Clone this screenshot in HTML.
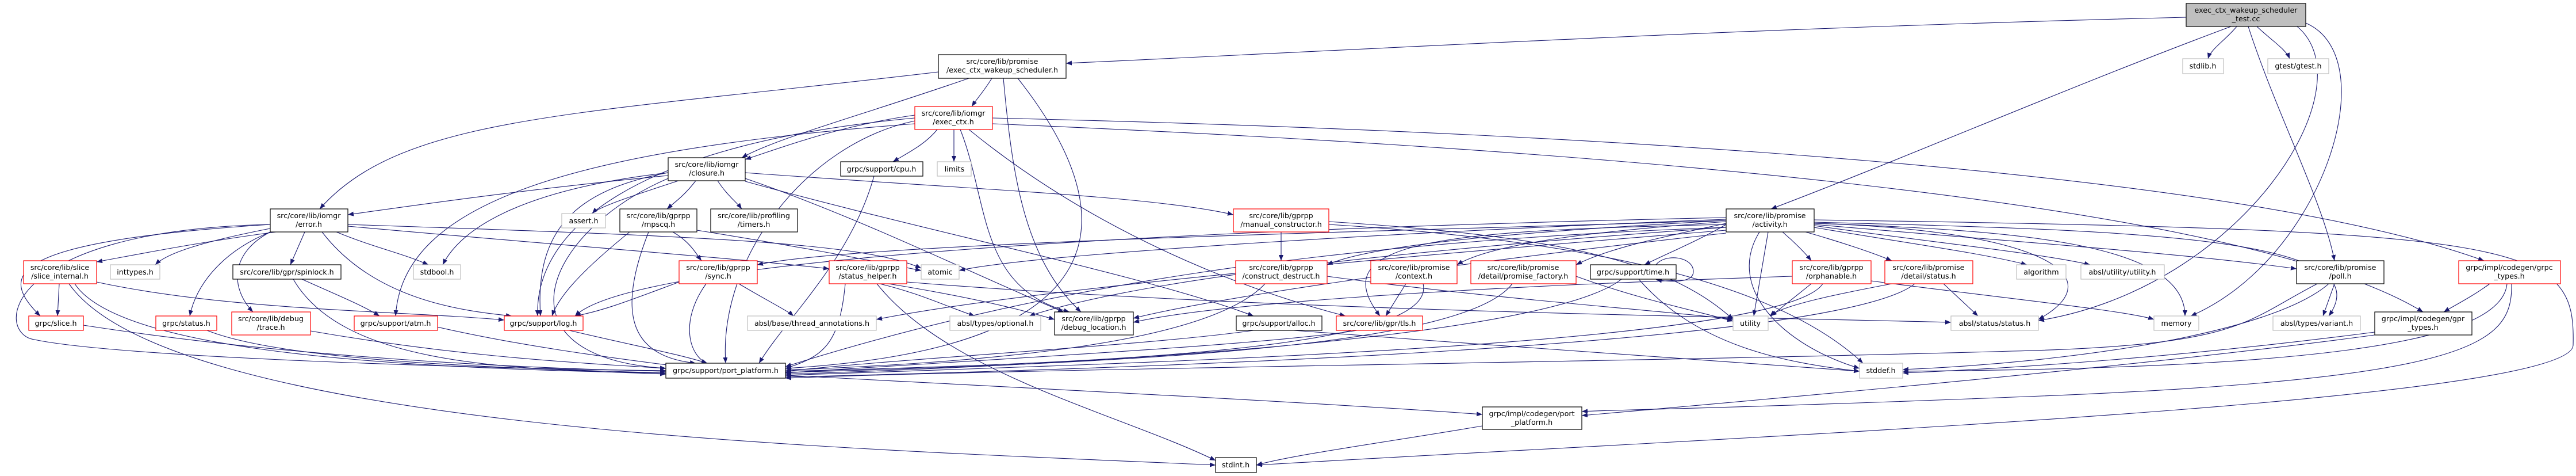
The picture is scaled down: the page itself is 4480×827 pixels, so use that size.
<!DOCTYPE html>
<html><head><meta charset="utf-8"><style>
html,body{margin:0;padding:0;background:#fff;}
svg{display:block;}
text{font-family:"DejaVu Sans","Liberation Sans",sans-serif;font-size:12.7px;fill:#000;text-anchor:middle;}
.e{fill:none;stroke:#191970;stroke-width:1.1;marker-end:url(#a);}
.k{fill:#fff;stroke:#000;stroke-width:1.2;}
.r{fill:#fff;stroke:#ff0000;stroke-width:1.2;}
.g{fill:#fff;stroke:#bfbfbf;stroke-width:1.2;}
</style></head><body>
<svg width="4480" height="827" viewBox="0 0 4480 827" xmlns="http://www.w3.org/2000/svg">
<defs><marker id="a" markerWidth="10" markerHeight="8" refX="10" refY="4" orient="auto" markerUnits="userSpaceOnUse"><path d="M0,0 L10,4 L0,8 z" fill="#191970"/></marker></defs>
<g>
<path class="e" d="M3802 30 C 3000 50, 2500 80, 1854 110"/>
<path class="e" d="M3880 46 C 3600 150, 3300 280, 3080 363"/>
<path class="e" d="M3890 46 C 3870 70, 3845 85, 3840 102"/>
<path class="e" d="M3925 46 C 3950 70, 3975 85, 3982 102"/>
<path class="e" d="M3910 46 C 3960 200, 4040 350, 4060 453"/>
<path class="e" d="M3995 46 C 4120 150, 3900 500, 3545 557"/>
<path class="e" d="M4010 40 C 4150 100, 4040 450, 3810 549"/>
<path class="e" d="M1725 136 C 1710 160, 1700 170, 1690 185"/>
<path class="e" d="M1685 136 C 1500 200, 1350 240, 1290 274"/>
<path class="e" d="M1632 125 C 1000 200, 700 200, 556 363"/>
<path class="e" d="M1745 136 C 1760 300, 1780 450, 1880 542"/>
<path class="e" d="M1770 136 C 1900 300, 2050 600, 1366 640"/>
<path class="e" d="M1591 200 C 1450 220, 1350 260, 1296 277"/>
<path class="e" d="M1630 225 C 1610 250, 1580 265, 1553 281"/>
<path class="e" d="M1659 225 L 1659 281"/>
<path class="e" d="M1670 225 C 1720 350, 1700 500, 1860 542"/>
<path class="e" d="M1685 225 C 1900 400, 2150 500, 2340 549"/>
<path class="e" d="M1591 210 C 1400 250, 1250 450, 1262 631"/>
<path class="e" d="M1591 205 C 1100 250, 930 400, 935 549"/>
<path class="e" d="M1591 215 C 1000 260, 700 350, 688 549"/>
<path class="e" d="M1726 205 C 2800 230, 3900 300, 4320 453"/>
<path class="e" d="M1726 215 C 2800 260, 3900 350, 4214 542"/>
<path class="e" d="M1162 305 C 900 330, 700 360, 605 373"/>
<path class="e" d="M1180 314 C 1100 340, 1040 360, 1030 371"/>
<path class="e" d="M1210 314 C 1190 340, 1175 350, 1160 363"/>
<path class="e" d="M1248 314 C 1265 340, 1280 350, 1290 363"/>
<path class="e" d="M1162 300 C 900 330, 800 400, 770 460"/>
<path class="e" d="M1162 300 C 1000 330, 930 400, 940 549"/>
<path class="e" d="M1162 310 C 950 400, 850 620, 1158 640"/>
<path class="e" d="M1296 300 C 1700 330, 2000 340, 2145 373"/>
<path class="e" d="M1296 310 C 1500 380, 1700 480, 1850 542"/>
<path class="e" d="M1296 315 C 1600 400, 2000 480, 2180 549"/>
<path class="e" d="M480 403 C 350 420, 250 440, 168 455"/>
<path class="e" d="M480 395 C 350 420, 290 440, 270 460"/>
<path class="e" d="M530 403 L 505 460"/>
<path class="e" d="M585 403 C 650 430, 700 440, 745 460"/>
<path class="e" d="M560 403 C 650 520, 800 540, 890 549"/>
<path class="e" d="M470 390 C 0 420, 0 480, 70 549"/>
<path class="e" d="M470 403 C 380 440, 340 500, 330 549"/>
<path class="e" d="M470 403 C 400 440, 400 500, 440 542"/>
<path class="e" d="M470 390 C 0 400, -10 580, 60 590 C 200 620, 800 640, 1158 644"/>
<path class="e" d="M605 390 C 1200 410, 1500 420, 1602 466"/>
<path class="e" d="M605 393 C 900 420, 1300 450, 1442 467"/>
<path class="e" d="M103 493 L 100 549"/>
<path class="e" d="M168 490 C 400 540, 700 540, 877 556"/>
<path class="e" d="M130 493 C 200 600, 600 640, 1158 648"/>
<path class="e" d="M120 493 C 300 750, 1500 780, 2114 808"/>
<path class="e" d="M525 485 C 580 510, 630 530, 660 549"/>
<path class="e" d="M510 485 C 600 640, 900 640, 1158 650"/>
<path class="e" d="M1170 403 C 1200 420, 1210 440, 1220 453"/>
<path class="e" d="M1095 403 C 1000 480, 970 520, 960 549"/>
<path class="e" d="M1128 403 C 1070 550, 1100 620, 1210 631"/>
<path class="e" d="M1212 400 C 1400 430, 1500 450, 1602 470"/>
<path class="e" d="M1181 490 C 1100 520, 1050 540, 1000 549"/>
<path class="e" d="M1228 493 C 1180 560, 1200 620, 1230 631"/>
<path class="e" d="M1285 493 C 1330 520, 1370 540, 1380 549"/>
<path class="e" d="M1530 493 C 1600 510, 1640 530, 1695 549"/>
<path class="e" d="M1545 493 C 1650 510, 1750 530, 1834 555"/>
<path class="e" d="M1470 493 C 1460 600, 1430 620, 1366 640"/>
<path class="e" d="M1525 493 C 1650 650, 1950 720, 2114 800"/>
<path class="e" d="M1577 490 C 2200 540, 3000 550, 3393 560"/>
<path class="e" d="M1520 306 C 1480 450, 1370 550, 1320 631"/>
<path class="e" d="M990 574 C 1100 600, 1180 615, 1230 631"/>
<path class="e" d="M760 568 C 900 600, 1050 620, 1175 636"/>
<path class="e" d="M145 565 C 500 620, 900 640, 1158 645"/>
<path class="e" d="M360 574 C 500 630, 900 640, 1158 648"/>
<path class="e" d="M540 575 C 800 620, 1000 630, 1158 640"/>
<path class="e" d="M2228 403 L 2228 453"/>
<path class="e" d="M2311 385 C 2700 410, 2900 450, 3014 555"/>
<path class="e" d="M2311 390 C 2800 420, 3100 500, 3240 631"/>
<path class="e" d="M3075 403 L 3050 549"/>
<path class="e" d="M3100 403 C 3120 420, 3140 440, 3150 453"/>
<path class="e" d="M3140 403 C 3200 420, 3260 440, 3290 453"/>
<path class="e" d="M3155 395 C 3300 420, 3450 440, 3525 460"/>
<path class="e" d="M3155 392 C 3350 420, 3550 440, 3635 460"/>
<path class="e" d="M3155 390 C 3500 420, 3800 440, 3994 467"/>
<path class="e" d="M3155 388 C 3500 400, 3800 420, 3800 549"/>
<path class="e" d="M3155 388 C 3550 400, 3680 480, 3545 555"/>
<path class="e" d="M3002 383 C 2700 400, 2400 420, 2308 460"/>
<path class="e" d="M3002 385 C 2800 400, 2600 420, 2534 460"/>
<path class="e" d="M3002 388 C 2900 410, 2800 430, 2741 460"/>
<path class="e" d="M3002 390 C 2950 420, 2900 440, 2860 460"/>
<path class="e" d="M3002 383 C 2500 400, 1500 420, 1317 460"/>
<path class="e" d="M3002 381 C 2500 400, 1800 440, 1668 470"/>
<path class="e" d="M3002 395 C 2500 430, 2000 480, 1790 549"/>
<path class="e" d="M3002 400 C 2500 440, 1800 500, 1524 555"/>
<path class="e" d="M3002 405 C 2500 460, 2100 520, 1971 553"/>
<path class="e" d="M3002 390 C 2500 400, 2300 420, 2400 549"/>
<path class="e" d="M3002 395 C 2300 420, 1800 500, 1366 637"/>
<path class="e" d="M3155 382 C 4400 400, 4480 420, 4475 600 C 4470 700, 3000 760, 2185 808"/>
<path class="e" d="M3155 386 C 3700 400, 4150 410, 4050 549"/>
<path class="e" d="M3060 403 C 3000 500, 3100 600, 3234 640"/>
<path class="e" d="M3002 378 C 2000 400, 1100 450, 1000 549"/>
<path class="e" d="M2200 493 C 2100 600, 1700 630, 1366 643"/>
<path class="e" d="M2308 480 C 2600 520, 2900 540, 3014 555"/>
<path class="e" d="M2445 493 L 2410 549"/>
<path class="e" d="M2475 493 C 2500 600, 2000 630, 1366 645"/>
<path class="e" d="M2630 493 C 2550 600, 2000 630, 1366 647"/>
<path class="e" d="M2741 480 C 2850 520, 2950 540, 3014 558"/>
<path class="e" d="M2820 485 C 2700 580, 2000 630, 1366 650"/>
<path class="e" d="M2850 485 C 2950 600, 3100 630, 3234 645"/>
<path class="e" d="M2880 460 C 2895 440, 2945 445, 2945 472 C 2945 492, 2905 490, 2880 486"/>
<path class="e" d="M3150 493 L 3080 549"/>
<path class="e" d="M3170 493 C 3100 600, 2000 630, 1366 652"/>
<path class="e" d="M3254 488 C 3500 520, 3700 540, 3746 555"/>
<path class="e" d="M3117 480 C 2500 500, 2100 530, 1971 560"/>
<path class="e" d="M3290 493 C 3200 510, 3100 530, 3078 549"/>
<path class="e" d="M3380 493 L 3440 549"/>
<path class="e" d="M3330 493 C 3200 600, 2000 640, 1366 655"/>
<path class="e" d="M4060 493 L 4040 549"/>
<path class="e" d="M4030 493 C 3900 560, 3900 600, 3500 610 C 2800 630, 1800 640, 1366 657"/>
<path class="e" d="M4050 493 C 3950 580, 3600 630, 3309 642"/>
<path class="e" d="M4330 493 C 4300 515, 4270 530, 4250 542"/>
<path class="e" d="M4360 493 C 4350 600, 4000 640, 3309 645"/>
<path class="e" d="M4368 493 C 4370 600, 4300 660, 3500 690 C 3000 710, 2800 712, 2751 715"/>
<path class="e" d="M4130 577 C 3800 620, 3500 640, 3309 648"/>
<path class="e" d="M4130 582 C 3700 640, 3000 700, 2751 722"/>
<path class="e" d="M1366 652 C 1900 680, 2300 700, 2578 720"/>
<path class="e" d="M2578 740 C 2400 770, 2250 790, 2185 808"/>
<path class="e" d="M2180 574 C 2000 600, 1600 620, 1366 645"/>
<path class="e" d="M2250 574 C 2600 600, 3000 630, 3234 645"/>
<path class="e" d="M2360 574 C 2200 600, 1700 625, 1366 648"/>
</g>
<g>
<rect x="3802" y="6" width="208" height="40" fill="#bfbfbf" stroke="#000" stroke-width="1.2"/><text x="3906" y="22">exec_ctx_wakeup_scheduler</text><text x="3906" y="37">_test.cc</text>
<rect class="k" x="1632" y="95" width="222" height="41"/><text x="1743" y="111">src/core/lib/promise</text><text x="1743" y="126">/exec_ctx_wakeup_scheduler.h</text>
<rect class="r" x="1591" y="185" width="135" height="40"/><text x="1658" y="201">src/core/lib/iomgr</text><text x="1658" y="216">/exec_ctx.h</text>
<rect class="g" x="3796" y="102" width="71" height="26"/><text x="3831" y="119">stdlib.h</text>
<rect class="g" x="3944" y="102" width="106" height="26"/><text x="3997" y="119">gtest/gtest.h</text>
<rect class="k" x="1162" y="274" width="134" height="40"/><text x="1229" y="290">src/core/lib/iomgr</text><text x="1229" y="305">/closure.h</text>
<rect class="k" x="1462" y="281" width="143" height="25"/><text x="1533" y="298">grpc/support/cpu.h</text>
<rect class="g" x="1630" y="281" width="59" height="25"/><text x="1660" y="298">limits</text>
<rect class="k" x="470" y="363" width="135" height="40"/><text x="537" y="379">src/core/lib/iomgr</text><text x="537" y="394">/error.h</text>
<rect class="g" x="977" y="371" width="76" height="25"/><text x="1015" y="388">assert.h</text>
<rect class="k" x="1078" y="363" width="134" height="40"/><text x="1145" y="379">src/core/lib/gprpp</text><text x="1145" y="394">/mpscq.h</text>
<rect class="k" x="1236" y="363" width="151" height="40"/><text x="1311" y="379">src/core/lib/profiling</text><text x="1311" y="394">/timers.h</text>
<rect class="r" x="2145" y="363" width="166" height="40"/><text x="2228" y="379">src/core/lib/gprpp</text><text x="2228" y="394">/manual_constructor.h</text>
<rect class="k" x="3002" y="363" width="153" height="40"/><text x="3078" y="379">src/core/lib/promise</text><text x="3078" y="394">/activity.h</text>
<rect class="r" x="41" y="453" width="127" height="40"/><text x="104" y="469">src/core/lib/slice</text><text x="104" y="484">/slice_internal.h</text>
<rect class="g" x="192" y="460" width="86" height="25"/><text x="235" y="477">inttypes.h</text>
<rect class="k" x="405" y="460" width="188" height="25"/><text x="499" y="477">src/core/lib/gpr/spinlock.h</text>
<rect class="g" x="719" y="460" width="82" height="25"/><text x="760" y="477">stdbool.h</text>
<rect class="r" x="1181" y="453" width="136" height="40"/><text x="1249" y="469">src/core/lib/gprpp</text><text x="1249" y="484">/sync.h</text>
<rect class="r" x="1442" y="453" width="135" height="40"/><text x="1509" y="469">src/core/lib/gprpp</text><text x="1509" y="484">/status_helper.h</text>
<rect class="g" x="1602" y="460" width="66" height="25"/><text x="1635" y="477">atomic</text>
<rect class="r" x="2149" y="453" width="159" height="40"/><text x="2228" y="469">src/core/lib/gprpp</text><text x="2228" y="484">/construct_destruct.h</text>
<rect class="r" x="2384" y="453" width="150" height="40"/><text x="2459" y="469">src/core/lib/promise</text><text x="2459" y="484">/context.h</text>
<rect class="r" x="2558" y="453" width="183" height="40"/><text x="2649" y="469">src/core/lib/promise</text><text x="2649" y="484">/detail/promise_factory.h</text>
<rect class="k" x="2766" y="460" width="149" height="25"/><text x="2840" y="477">grpc/support/time.h</text>
<rect class="r" x="3117" y="453" width="137" height="40"/><text x="3185" y="469">src/core/lib/gprpp</text><text x="3185" y="484">/orphanable.h</text>
<rect class="r" x="3278" y="453" width="153" height="40"/><text x="3354" y="469">src/core/lib/promise</text><text x="3354" y="484">/detail/status.h</text>
<rect class="g" x="3507" y="460" width="86" height="25"/><text x="3550" y="477">algorithm</text>
<rect class="g" x="3619" y="460" width="145" height="25"/><text x="3691" y="477">absl/utility/utility.h</text>
<rect class="k" x="3994" y="453" width="152" height="40"/><text x="4070" y="469">src/core/lib/promise</text><text x="4070" y="484">/poll.h</text>
<rect class="r" x="4276" y="453" width="177" height="40"/><text x="4364" y="469">grpc/impl/codegen/grpc</text><text x="4364" y="484">_types.h</text>
<rect class="r" x="50" y="549" width="95" height="25"/><text x="97" y="566">grpc/slice.h</text>
<rect class="r" x="271" y="549" width="106" height="25"/><text x="324" y="566">grpc/status.h</text>
<rect class="r" x="403" y="542" width="137" height="40"/><text x="471" y="558">src/core/lib/debug</text><text x="471" y="573">/trace.h</text>
<rect class="r" x="616" y="549" width="145" height="25"/><text x="688" y="566">grpc/support/atm.h</text>
<rect class="r" x="877" y="549" width="137" height="25"/><text x="945" y="566">grpc/support/log.h</text>
<rect class="g" x="1300" y="549" width="224" height="25"/><text x="1412" y="566">absl/base/thread_annotations.h</text>
<rect class="g" x="1652" y="549" width="158" height="25"/><text x="1731" y="566">absl/types/optional.h</text>
<rect class="k" x="1834" y="542" width="137" height="40"/><text x="1902" y="558">src/core/lib/gprpp</text><text x="1902" y="573">/debug_location.h</text>
<rect class="k" x="2150" y="549" width="149" height="25"/><text x="2224" y="566">grpc/support/alloc.h</text>
<rect class="r" x="2324" y="549" width="150" height="25"/><text x="2399" y="566">src/core/lib/gpr/tls.h</text>
<rect class="g" x="3014" y="549" width="61" height="25"/><text x="3044" y="566">utility</text>
<rect class="g" x="3393" y="549" width="152" height="25"/><text x="3469" y="566">absl/status/status.h</text>
<rect class="g" x="3746" y="549" width="78" height="25"/><text x="3785" y="566">memory</text>
<rect class="g" x="3953" y="549" width="152" height="25"/><text x="4029" y="566">absl/types/variant.h</text>
<rect class="k" x="4130" y="542" width="169" height="40"/><text x="4214" y="558">grpc/impl/codegen/gpr</text><text x="4214" y="573">_types.h</text>
<rect class="k" x="1158" y="631" width="208" height="26"/><text x="1262" y="648">grpc/support/port_platform.h</text>
<rect class="g" x="3234" y="631" width="75" height="26"/><text x="3271" y="648">stddef.h</text>
<rect class="k" x="2578" y="707" width="173" height="39"/><text x="2664" y="723">grpc/impl/codegen/port</text><text x="2664" y="738">_platform.h</text>
<rect class="k" x="2114" y="795" width="71" height="26"/><text x="2149" y="812">stdint.h</text>
</g>
</svg>
</body></html>
